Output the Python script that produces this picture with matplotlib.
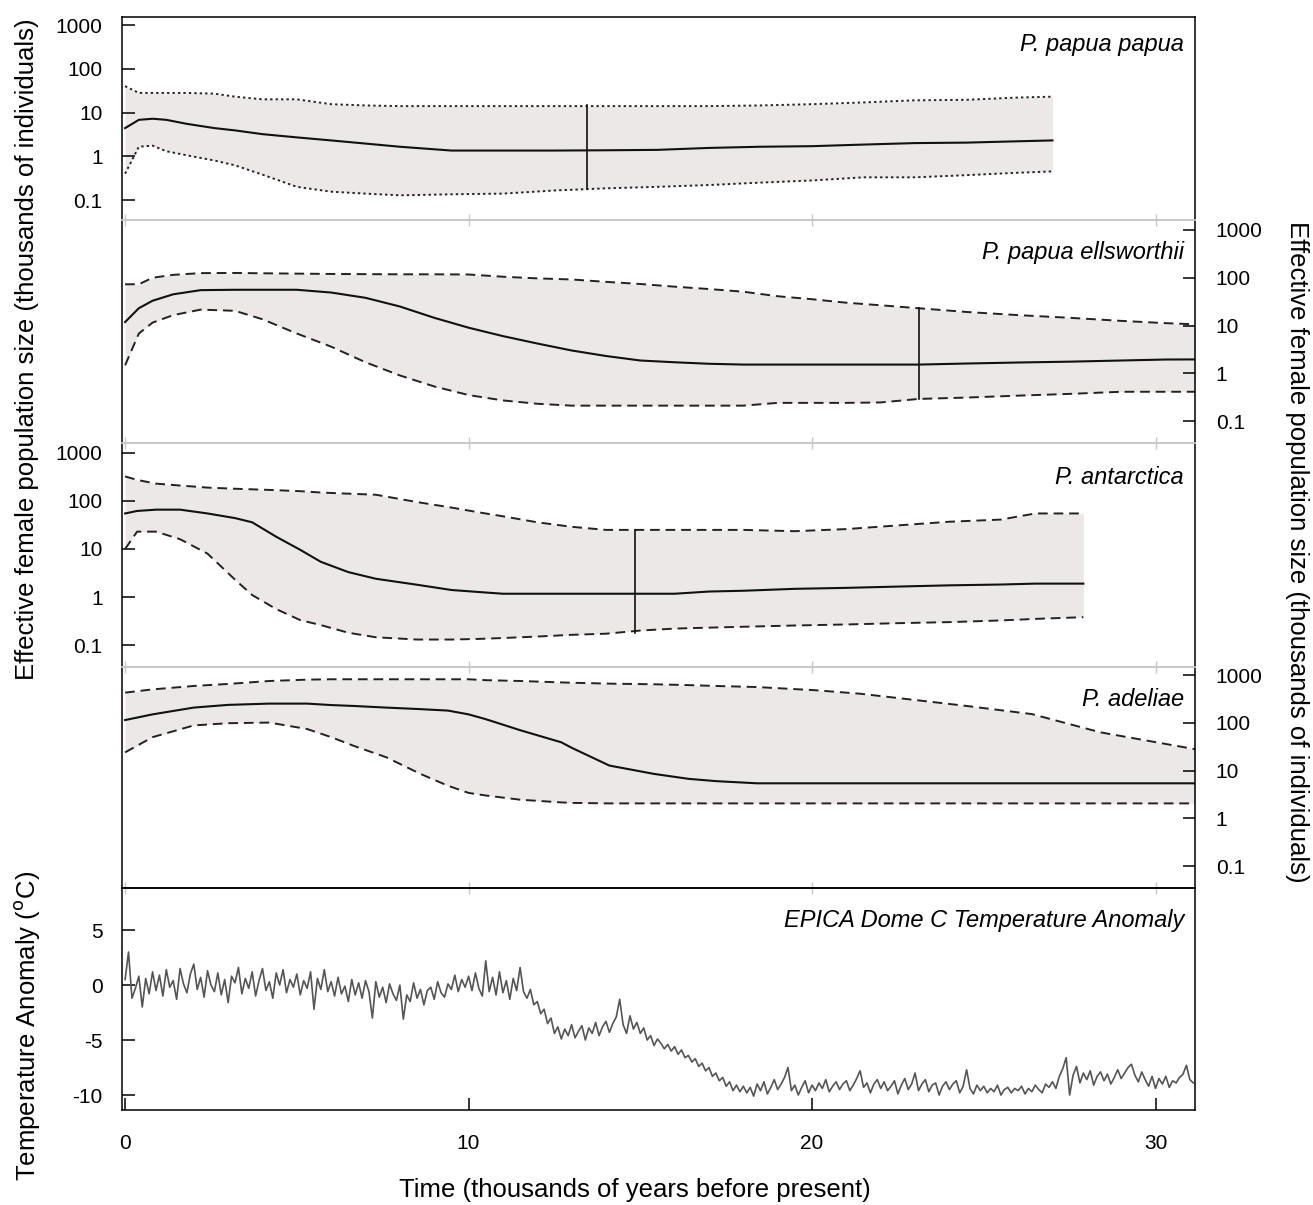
import matplotlib
matplotlib.use("Agg")

import matplotlib.pyplot as plt
from matplotlib.ticker import FixedLocator, NullLocator, FixedFormatter

plt.rcParams["font.family"] = ["Liberation Sans", "DejaVu Sans"]

# ---- data ----
# P. papua papua
pp_time = [0, 0.4, 0.8, 1.2, 1.8, 2.6, 3.2, 4.0, 5.0, 6.0, 7.0, 8.0, 9.5, 11, 12.5,
           14, 15.5, 17, 18.5, 20, 21.5, 23, 24.5, 26, 27.0]
pp_upper = [40, 28, 28, 28, 28, 27, 23, 20, 20, 15.5, 14.5, 14, 14, 14, 14,
            14, 14, 14, 14.5, 15.5, 17, 19, 19.5, 22, 23]
pp_median = [4.4, 6.8, 7.2, 6.8, 5.5, 4.4, 3.9, 3.2, 2.7, 2.3, 1.95, 1.65, 1.35, 1.35, 1.35,
             1.37, 1.4, 1.55, 1.65, 1.7, 1.85, 2.0, 2.05, 2.2, 2.3]
pp_lower = [0.4, 1.65, 1.75, 1.3, 1.05, 0.8, 0.62, 0.38, 0.2, 0.155, 0.14, 0.128, 0.135, 0.14, 0.165,
            0.185, 0.2, 0.22, 0.25, 0.28, 0.33, 0.33, 0.37, 0.42, 0.45]
pp_root = (13.45, 0.18, 15)

# P. papua ellsworthii
pe_time = [0, 0.4, 0.8, 1.4, 2.2, 3.2, 4.0, 5.0, 6.0, 7.0, 8.0, 9.0, 10.0, 11.0, 12.0, 13.0,
           14.0, 15.0, 16.0, 17.0, 18.0, 19.0, 20.0, 21.0, 22.0, 23.1, 24.5, 26.0, 27.5, 29.0,
           30.3, 31.15]
pe_upper = [73, 73, 100, 115, 125, 126, 124, 122, 120, 119, 118, 118, 117, 105, 97, 92,
            82, 74, 65, 58, 51, 41, 35.5, 30, 26.5, 23, 19.2, 16.5, 14.5, 12.5,
            11.2, 10.6]
pe_median = [11.8, 23, 33, 45, 55, 56, 56, 56, 49, 38, 25, 14.5, 9, 6.0, 4.2, 3.0,
             2.3, 1.85, 1.7, 1.58, 1.52, 1.52, 1.52, 1.52, 1.52, 1.52, 1.6, 1.68, 1.75, 1.85,
             1.94, 1.95]
pe_lower = [1.47, 6.8, 11.5, 16.5, 21.5, 20.3, 13.5, 6.8, 3.6, 1.7, 0.9, 0.53, 0.35, 0.27, 0.23, 0.21,
            0.21, 0.21, 0.21, 0.21, 0.21, 0.24, 0.24, 0.24, 0.245, 0.29, 0.31, 0.34, 0.37, 0.41,
            0.41, 0.41]
pe_root = (23.1, 0.29, 23)

# P. antarctica
pa_time = [0, 0.35, 0.9, 1.6, 2.4, 3.2, 3.7, 4.4, 5.1, 5.7, 6.5, 7.3, 8.5, 9.5, 10.3, 11.0,
           12.0, 13.0, 14.0, 15.0, 16.0, 17.0, 18.0, 19.5, 21.0, 22.5, 24.0, 25.5, 26.5, 27.9]
pa_upper = [325, 275, 230, 210, 190, 180, 175, 168, 160, 150, 142, 135, 95, 73, 58, 48,
            36, 29, 25, 25, 25, 25, 25, 23.5, 26, 31, 37, 41, 55, 55]
pa_median = [55, 62, 66, 66, 55, 44, 36, 18, 9.6, 5.4, 3.3, 2.4, 1.8, 1.4, 1.27, 1.17,
             1.17, 1.17, 1.17, 1.17, 1.17, 1.3, 1.35, 1.48, 1.55, 1.65, 1.75, 1.82, 1.9, 1.9]
pa_lower = [10, 23, 23, 16, 8, 2.3, 1.1, 0.56, 0.33, 0.26, 0.18, 0.145, 0.13, 0.13, 0.134, 0.14,
            0.15, 0.163, 0.172, 0.2, 0.22, 0.23, 0.24, 0.255, 0.268, 0.285, 0.3, 0.325, 0.35, 0.38]
pa_root = (14.85, 0.18, 25)

# P. adeliae
pd_time = [0, 0.8, 2.0, 3.0, 4.2, 5.3, 6.0, 6.65, 7.6, 8.6, 9.4, 10.0, 10.5, 11.5, 12.7, 13.0,
           14.1, 15.4, 16.4, 17.2, 18.4, 20.1, 21.4, 23.0, 24.5, 26.4, 28.4, 31.15]
pd_upper = [428, 500, 590, 650, 750, 800, 815, 815, 815, 815, 815, 815, 780, 750, 700, 690,
            660, 640, 615, 590, 560, 480, 406, 300, 225, 152, 63, 28]
pd_median = [114, 150, 208, 237, 252, 252, 235, 225, 208, 193, 180, 150, 119, 70, 39, 30,
             12.7, 8.5, 6.7, 6.0, 5.4, 5.4, 5.4, 5.4, 5.4, 5.4, 5.4, 5.4]
pd_lower = [24, 50, 88, 98, 101, 74, 50, 33, 19, 8.5, 4.8, 3.4, 3.0, 2.45, 2.15, 2.1,
            2.05, 2.05, 2.05, 2.05, 2.05, 2.05, 2.05, 2.05, 2.05, 2.05, 2.05, 2.05]

# EPICA Dome C temperature anomaly, one value every 0.1 kyr from 0 to 31.1
temp_anomaly = [
    0.5, 3.0, -1.2, -0.3, 0.8, -2.0, 0.6, -0.8, 1.2, -0.5,
    0.9, -1.0, 1.4, -0.2, 0.4, -1.3, 1.5, 0.1, -0.7, 1.0,
    1.9, -0.4, 0.7, -1.1, 1.3, 0.0, -0.6, 1.1, -0.9, 0.5,
    -1.6, 0.8, 0.2, 1.6, -0.8, 0.6, -0.3, 1.2, -1.0, 0.4,
    1.5, -0.5, 0.3, -1.2, 1.1, 0.0, 1.4, -0.7, 0.5, -0.2,
    1.0, -0.9, 0.4, -0.3, 1.2, -2.2, 0.6, -0.4, 1.4, -0.6,
    0.3, -1.0, 0.7, -0.8, -0.1, -1.5, 0.5, -0.9, 0.2, -1.2,
    0.4, -0.6, -3.0, 0.3, -1.1, -0.2, -1.6, 0.1, -0.8, -1.4,
    0.0, -3.1, -0.9, -1.5, 0.2, -1.2, -0.4, -1.8, -0.5, -0.2,
    -1.3, 0.3, -0.7, -1.1, 0.1, -0.4, 0.9, -0.6, 0.5, -0.2,
    0.8, -0.5, 1.1, -0.3, -1.0, 2.2, -0.6, 0.7, -0.9, 1.2,
    -0.7, 0.4, -1.3, 0.6, -0.5, 1.6, -0.6, -1.2, -0.4, -1.8,
    -1.5, -2.6, -2.2, -3.5, -3.0, -4.4, -3.8, -4.9, -4.0, -4.6,
    -3.6, -4.8, -4.2, -3.7, -5.0, -3.9, -4.4, -3.4, -4.6, -3.8,
    -3.3, -4.3, -3.5, -2.9, -1.3, -3.6, -4.4, -2.8, -4.0, -3.4,
    -4.4, -3.9, -5.0, -4.6, -5.5, -4.9, -5.3, -5.8, -5.4, -6.0,
    -5.6, -6.3, -5.9, -6.6, -6.4, -7.0, -6.7, -7.4, -7.1, -7.8,
    -7.5, -8.3, -8.0, -8.7, -8.4, -9.2, -8.8, -9.6, -9.1, -9.7,
    -9.2, -9.8, -9.3, -10.1, -9.0, -9.6, -8.8, -9.9, -9.3, -8.6,
    -9.5, -9.0, -8.4, -7.5, -9.6, -9.1, -10.0, -9.3, -8.7, -9.8,
    -9.1, -9.6, -8.9, -9.4, -8.6, -9.7, -9.2, -8.8, -9.5, -9.0,
    -8.7, -9.6, -9.1, -8.5, -7.8, -9.3, -8.9, -9.8, -9.0, -8.6,
    -9.4, -8.8, -9.6, -9.2, -8.7, -9.9, -9.1, -8.5, -9.5, -9.0,
    -8.0, -9.6, -9.0, -8.6, -9.7, -9.1, -8.9, -10.0, -9.2, -8.8,
    -9.5, -9.0, -8.7, -9.8, -9.2, -7.7, -9.4, -9.9, -9.1, -9.6,
    -9.2, -9.8, -9.4, -9.7, -9.1, -10.0, -9.5, -9.3, -9.8, -9.4,
    -9.6, -9.2, -9.9, -9.4, -9.7, -9.1, -9.5, -9.8, -9.0, -9.3,
    -8.8, -9.4, -8.3, -7.6, -6.6, -10.0, -8.2, -7.4, -8.9, -8.0,
    -8.6, -7.8, -9.1, -8.3, -7.9, -8.7, -8.1, -9.0, -8.4, -7.7,
    -8.5, -8.0, -7.5, -7.2, -8.2, -8.8, -7.9, -8.6, -9.2, -8.3,
    -9.4, -8.5, -9.0, -8.3, -9.3, -8.7, -8.9, -8.4, -8.1, -7.3,
    -8.6, -8.9,
]
temp_time = [i / 10 for i in range(len(temp_anomaly))]

log_ticks = [1000, 100, 10, 1, 0.1]
log_labels = ["1000", "100", "10", "1", "0.1"]

# ---- layout ----
W, H = 1313, 1205
FILL = "#ece8e8"
SEP = "#c8c8c8"
X0, X1 = 122, 1195
XLIM = (-0.09, 31.15)
TICK_FS = 15
TITLE_FS = 17
LABEL_FS = 18.5

fig = plt.figure(figsize=(W / 100, H / 100), dpi=100)


def add_panel(top, bottom):
    return fig.add_axes([X0 / W, 1 - bottom / H, (X1 - X0) / W, (bottom - top) / H])


def skyline(ax, t, up, med, lo, ls, root=None):
    ax.fill_between(t, lo, up, color=FILL, lw=0)
    ax.plot(t, up, color="#222222", ls=ls, lw=1.4)
    ax.plot(t, lo, color="#222222", ls=ls, lw=1.4)
    ax.plot(t, med, color="#111111", lw=1.5)
    if root is not None:
        x, y0, y1 = root
        ax.plot([x, x], [y0, y1], color="#111111", lw=1.2)


def style_log(ax, ylim, side, top_col, bot_col):
    ax.set_yscale("log")
    ax.set_ylim(*ylim)
    ax.set_xlim(*XLIM)
    ax.yaxis.set_major_locator(FixedLocator(log_ticks))
    ax.yaxis.set_major_formatter(FixedFormatter(log_labels))
    ax.yaxis.set_minor_locator(NullLocator())
    if side == "left":
        ax.tick_params(axis="y", left=True, right=False, labelleft=True, labelright=False,
                       direction="in", length=9, width=1.1, pad=14, labelsize=TICK_FS)
    else:
        ax.tick_params(axis="y", left=False, right=True, labelleft=False, labelright=True,
                       direction="in", length=9, width=1.1, pad=15, labelsize=TICK_FS)
    ax.xaxis.set_major_locator(FixedLocator([0, 10, 20, 30]))
    ax.tick_params(axis="x", bottom=True, top=False, labelbottom=False, direction="inout",
                   length=8, width=1.0, color=SEP)
    for s in ("left", "right"):
        ax.spines[s].set_color("black")
        ax.spines[s].set_linewidth(1.1)
    ax.spines["top"].set_color(top_col)
    ax.spines["bottom"].set_color(bot_col)
    ax.spines["top"].set_linewidth(1.1 if top_col == "black" else 1.3)
    ax.spines["bottom"].set_linewidth(1.1 if bot_col == "black" else 1.3)
    ax.set_facecolor("none")


ax1 = add_panel(17, 220)
skyline(ax1, pp_time, pp_upper, pp_median, pp_lower, (0, (1.2, 1.6)), pp_root)
style_log(ax1, (10 ** -1.457, 10 ** 3.183), "left", "black", SEP)

ax2 = add_panel(220, 443)
skyline(ax2, pe_time, pe_upper, pe_median, pe_lower, (0, (5, 3)), pe_root)
style_log(ax2, (10 ** -1.46, 10 ** 3.209), "right", SEP, SEP)

ax3 = add_panel(443, 667)
skyline(ax3, pa_time, pa_upper, pa_median, pa_lower, (0, (5, 3)), pa_root)
style_log(ax3, (10 ** -1.458, 10 ** 3.208), "left", SEP, SEP)

ax4 = add_panel(667, 888)
skyline(ax4, pd_time, pd_upper, pd_median, pd_lower, (0, (5, 3)))
style_log(ax4, (10 ** -1.46, 10 ** 3.168), "right", SEP, "black")

ax5 = add_panel(888, 1110)
ax5.plot(temp_time, temp_anomaly, color="#555555", lw=1.2)
ax5.set_xlim(*XLIM)
ax5.set_ylim(-11.36, 8.82)
ax5.set_yticks([5, 0, -5, -10])
ax5.set_yticklabels(["5", "0", "-5", "-10"])
ax5.set_xticks([0, 10, 20, 30])
ax5.tick_params(axis="both", direction="in", length=9, width=1.1, labelsize=TICK_FS)
ax5.tick_params(axis="y", pad=14)
ax5.tick_params(axis="x", pad=17)
for s in ax5.spines.values():
    s.set_linewidth(1.1)
ax5.set_facecolor("none")

# panel titles
titles = [("P. papua papua", 45), ("P. papua ellsworthii", 253), ("P. antarctica", 478),
          ("P. adeliae", 700), ("EPICA Dome C Temperature Anomaly", 921)]
for name, yp in titles:
    fig.text(1184 / W, 1 - yp / H, name, ha="right", va="center", style="italic",
             fontsize=TITLE_FS)

# axis labels
fig.text(27 / W, 1 - 349 / H, "Effective female population size (thousands of individuals)",
         rotation=90, ha="center", va="center", fontsize=LABEL_FS)
fig.text(1297 / W, 1 - 552 / H, "Effective female population size (thousands of individuals)",
         rotation=-90, ha="center", va="center", fontsize=LABEL_FS)
fig.text(27 / W, 1 - 1026 / H, "Temperature Anomaly ($^{\\rm o}$C)",
         rotation=90, ha="center", va="center", fontsize=LABEL_FS)
fig.text(635 / W, 1 - 1190 / H, "Time (thousands of years before present)",
         ha="center", va="center", fontsize=LABEL_FS)

fig.savefig("out.png", dpi=100)
